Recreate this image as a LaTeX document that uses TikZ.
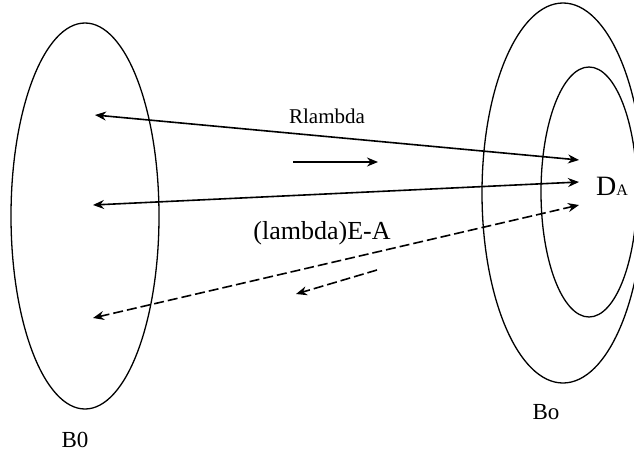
\documentclass[tikz,border=0pt]{standalone}
\usepackage{fontspec}
\setmainfont{Liberation Serif}
\usetikzlibrary{arrows.meta}
\tikzset{
  set/.style={draw=black, line width=1.3pt},
  link/.style={line width=1.6pt, {Stealth[length=11pt,width=9pt]}-{Stealth[length=11pt,width=9pt]}},
  dlink/.style={link, dash pattern=on 10pt off 4pt},
  hint/.style={line width=1.6pt, -{Stealth[length=11pt,width=9pt]}},
  lbl/.style={inner sep=0pt, font=\fontsize{20}{22}\selectfont}
}
\begin{document}
\begin{tikzpicture}[x=1pt,y=-1pt]
\useasboundingbox (0,0) rectangle (634,455);
\clip (0,0) rectangle (634,455);
% sets
\draw[set] (85,216) ellipse [x radius=74, y radius=193];
\draw[set] (563,193) ellipse [x radius=81, y radius=190];
\draw[set] (589,192) ellipse [x radius=48, y radius=125];
% end points
\coordinate (l1) at (95,115);
\coordinate (l2) at (93,205);
\coordinate (l3) at (93,318);
\coordinate (r1) at (579,160);
\coordinate (r2) at (579,182);
\coordinate (r3) at (579,205);
\draw[link] (l1) -- (r1);
\draw[link] (l2) -- (r2);
\draw[dlink] (l3) -- (r3);
% direction hints
\coordinate (h1a) at (293,162);
\coordinate (h1b) at (378,162);
\draw[hint] (h1a) -- (h1b);
\coordinate (h2a) at (377,270);
\coordinate (h2b) at (296,294);
\draw[hint, dash pattern=on 10pt off 4pt] (h2a) -- (h2b);
% labels
\node[lbl, font=\fontsize{21}{23}\selectfont] (rl) at (327,116) {Rlambda};
\node[lbl, font=\fontsize{26}{28}\selectfont] (le) at (322,233) {(lambda)E-A};
\node[lbl, anchor=west] (da) at (596,186) {{\fontsize{28}{28}\selectfont D}{\fontsize{16}{16}\selectfont A}};
\node[lbl, font=\fontsize{23}{25}\selectfont] (b0) at (75,440) {B0};
\node[lbl, font=\fontsize{23}{25}\selectfont] (bo) at (546,412) {Bo};
\end{tikzpicture}
\end{document}
